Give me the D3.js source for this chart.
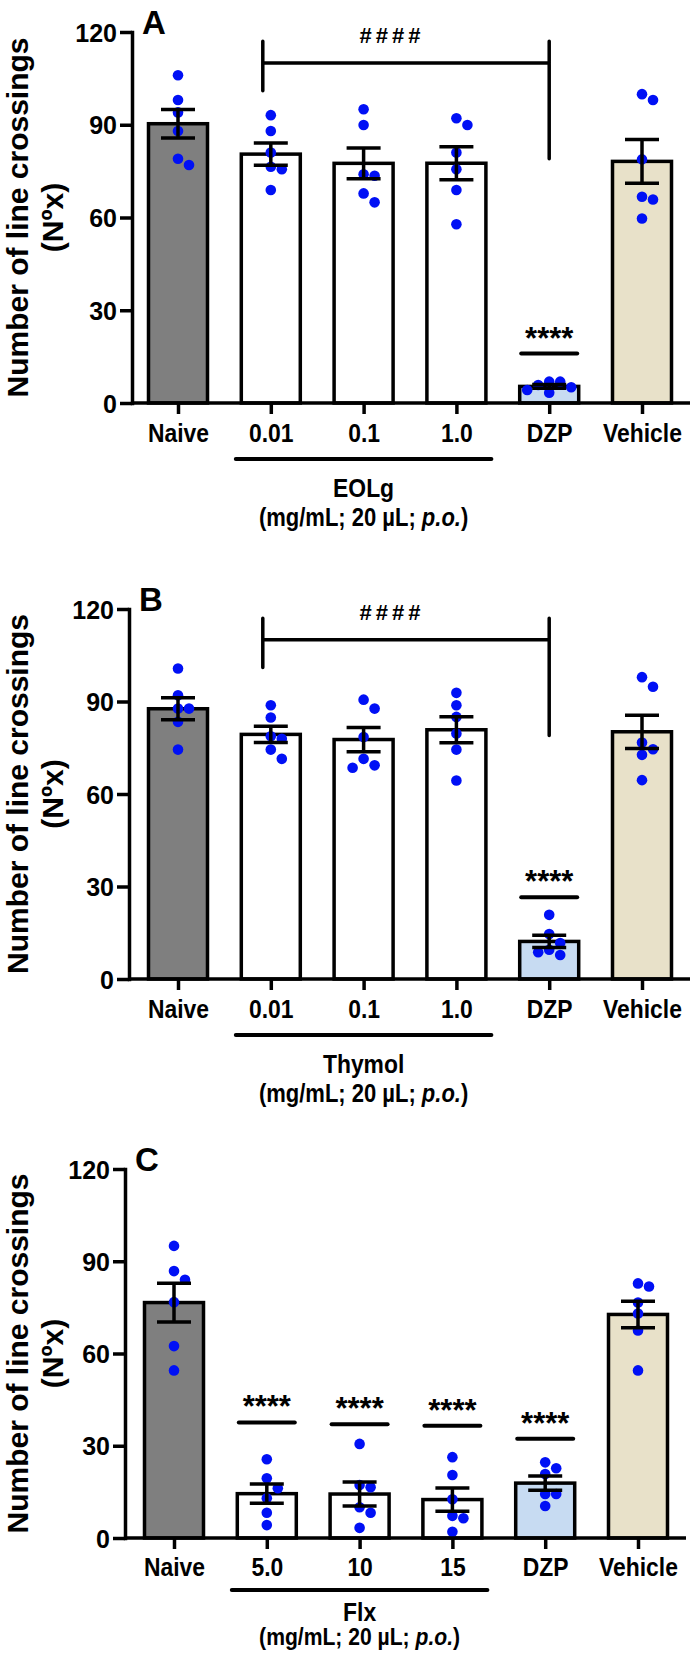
<!DOCTYPE html>
<html>
<head>
<meta charset="utf-8">
<script src="https://cdn.jsdelivr.net/npm/d3@7"></script>
<style>
  body { margin: 0; background: #fff; }
  svg { display: block; }
  text { font-family: "Liberation Sans", Arial, Helvetica, sans-serif; font-weight: bold; fill: #000; }
</style>
</head>
<body>
<svg id="fig" width="695" height="1653"></svg>
<script>
// groups on the x axis
const groupsAB = ["Naive", "0.01", "0.1", "1.0", "DZP", "Vehicle"];
const groupsC = ["Naive", "5.0", "10", "15", "DZP", "Vehicle"];
const yTicks = [0, 30, 60, 90, 120];
const fills = ["#7f7f7f", "#ffffff", "#ffffff", "#ffffff", "#c7dbf2", "#e8e1c9"];

// individual animals (line crossings)
const dotsA = [
  [106, 98, 94, 88, 79, 77],
  [93.1, 88, 81, 76.4, 75.6, 68.9],
  [95, 89.9, 74, 73.5, 67.8, 64.9],
  [92.1, 89.9, 81, 75.6, 68.9, 57.8],
  [6.9, 6.9, 5.8, 5.1, 4.2, 3.3],
  [99.9, 98, 78.8, 66.7, 65.8, 59.7]
];
const dotsB = [
  [100.7, 92, 87.7, 87.7, 83.4, 74.4],
  [88.8, 84.8, 78.7, 77.9, 74.4, 71.4],
  [90.6, 87.7, 78.5, 71.4, 69.3, 68.5],
  [92.8, 88.8, 85, 79.6, 74.4, 64.4],
  [20.8, 14.6, 11.7, 9.5, 8.7, 7.8],
  [97.9, 94.8, 76.7, 74.5, 72.7, 64.5]
];
const dotsC = [
  [95, 86.8, 84, 76.7, 62.4, 54.5],
  [25.6, 19.4, 16.2, 12.9, 8.2, 4.2],
  [30.6, 17.2, 16.5, 10, 8.2, 3.3],
  [26.3, 20.5, 12.6, 7.2, 6.4, 2],
  [24.6, 22.7, 20.8, 14.3, 14.3, 10.4],
  [82.8, 81.8, 76.6, 73, 67.5, 54.5]
];

// "****" markers: [group, height of the line under the stars]
const starsA = [["DZP", 16]];
const starsB = [["DZP", 26.5]];
const starsC = [["5.0", 37.6], ["10", 37], ["15", 36.5], ["DZP", 32.3]];

// "####" bracket 0.01 vs DZP (y values in line crossings)
const hashBracket = {from: "0.01", to: "DZP", bar: 110, top: 117, leftEnd: 101, rightEnd: 79, label: 119};

const panels = [
  {letter: "A", groups: groupsAB, dots: dotsA, stars: starsA, bracket: true, drug: "EOLg",
   y0: 403, y120: 32, axisX: 132, first: 178, under: [30, 56, 85, 114], unitSize: 25},
  {letter: "B", groups: groupsAB, dots: dotsB, stars: starsB, bracket: true, drug: "Thymol",
   y0: 979, y120: 609, axisX: 129, first: 178, under: [30, 56, 85, 114], unitSize: 25},
  {letter: "C", groups: groupsC, dots: dotsC, stars: starsC, bracket: false, drug: "Flx",
   y0: 1538, y120: 1169, axisX: 125, first: 174, under: [29, 52, 74, 98], unitSize: 24}
];

const step = 92.8, barW = 59, capW = 34, lw = 3.5, r = 5.3;
const narrow = "scale(0.88,1)";

const svg = d3.select("#fig");

function swarm(vals, y) {
  // simple beeswarm: top-down, first free slot
  let pts = vals.map(v => ({v: v, py: y(v)})).sort((a, b) => a.py - b.py);
  let slots = [0, 11, -11, 22, -22, 33, -33];
  let placed = [];
  pts.forEach(d => {
    d.dx = slots.find(s => !placed.some(q => q.dx === s && Math.abs(q.py - d.py) < 10));
    placed.push(d);
  });
  return pts;
}

function drawPanel(p) {
  const g = svg.append("g").attr("class", "panel");
  const y = d3.scaleLinear().domain([0, 120]).range([p.y0, p.y120]);
  const x = d3.scalePoint().domain(p.groups).range([p.first, p.first + 5 * step]);

  const stats = p.groups.map((k, i) => {
    let v = p.dots[i];
    return {k: k, i: i, mean: d3.mean(v), sem: d3.deviation(v) / Math.sqrt(v.length), pts: swarm(v, y)};
  });

  // bars
  g.selectAll("rect.bar").data(stats).join("rect")
    .attr("class", "bar")
    .attr("x", d => x(d.k) - barW / 2)
    .attr("width", barW)
    .attr("y", d => y(d.mean))
    .attr("height", d => p.y0 - y(d.mean))
    .attr("fill", d => fills[d.i])
    .attr("stroke", "#000")
    .attr("stroke-width", lw);

  // dots
  g.selectAll("g.dots").data(stats).join("g")
    .attr("class", "dots")
    .attr("transform", d => `translate(${x(d.k)},0)`)
  .selectAll("circle").data(d => d.pts).join("circle")
    .attr("cx", d => d.dx)
    .attr("cy", d => d.py)
    .attr("r", r)
    .attr("fill", "#0010f5");

  // error bars (mean +/- SEM)
  const eb = g.selectAll("g.err").data(stats).join("g")
    .attr("class", "err")
    .attr("transform", d => `translate(${x(d.k)},0)`)
    .attr("stroke", "#000")
    .attr("stroke-width", lw);
  eb.append("line")
    .attr("y1", d => y(d.mean + d.sem))
    .attr("y2", d => y(d.mean - d.sem));
  eb.append("line")
    .attr("x1", -capW / 2).attr("x2", capW / 2)
    .attr("y1", d => y(d.mean + d.sem)).attr("y2", d => y(d.mean + d.sem));
  eb.append("line")
    .attr("x1", -capW / 2).attr("x2", capW / 2)
    .attr("y1", d => y(d.mean - d.sem)).attr("y2", d => y(d.mean - d.sem));

  // y axis
  const ya = g.append("g")
    .attr("transform", `translate(${p.axisX},0)`)
    .call(d3.axisLeft(y).tickValues(yTicks).tickSize(12).tickSizeOuter(0).tickPadding(3));
  ya.select(".domain").attr("stroke-width", lw).attr("stroke-linecap", "square");
  ya.selectAll(".tick line").attr("stroke-width", lw);
  ya.selectAll(".tick text")
    .attr("font-family", null)
    .attr("font-size", 25)
    .attr("dy", "0.36em");

  // x axis
  const xa = g.append("g")
    .attr("transform", `translate(0,${p.y0})`)
    .call(d3.axisBottom(x).tickSize(11).tickSizeOuter(0).tickPadding(0));
  xa.select(".domain").remove();
  xa.append("line")
    .attr("x1", p.axisX).attr("x2", x("Vehicle") + 48)
    .attr("stroke", "#000").attr("stroke-width", lw);
  xa.selectAll(".tick line").attr("stroke-width", lw);
  xa.selectAll(".tick text")
    .attr("font-family", null)
    .attr("font-size", 26)
    .attr("y", p.under[0])
    .attr("dy", "0.36em")
    .attr("transform", narrow);

  // dose group underline and labels
  g.append("line")
    .attr("x1", x(p.groups[1]) - 35).attr("x2", x(p.groups[3]) + 35)
    .attr("y1", p.y0 + p.under[1]).attr("y2", p.y0 + p.under[1])
    .attr("stroke", "#000").attr("stroke-width", 4).attr("stroke-linecap", "round");
  g.append("text")
    .attr("transform", `translate(${x(p.groups[2])},${p.y0 + p.under[2]}) ${narrow}`)
    .attr("text-anchor", "middle").attr("dy", "0.36em")
    .attr("font-size", 26)
    .text(p.drug);
  const unit = g.append("text")
    .attr("transform", `translate(${x(p.groups[2])},${p.y0 + p.under[3]}) ${narrow}`)
    .attr("text-anchor", "middle").attr("dy", "0.36em")
    .attr("font-size", p.unitSize);
  unit.append("tspan").text("(mg/mL; 20 µL; ");
  unit.append("tspan").attr("font-style", "italic").text("p.o.");
  unit.append("tspan").text(")");

  // significance vs naive
  const st = g.selectAll("g.star").data(p.stars).join("g")
    .attr("class", "star")
    .attr("transform", d => `translate(${x(d[0])},${y(d[1])})`);
  st.append("line")
    .attr("x1", -28).attr("x2", 28)
    .attr("stroke", "#000").attr("stroke-width", 4).attr("stroke-linecap", "round");
  st.append("text")
    .attr("y", -5)
    .attr("text-anchor", "middle")
    .attr("font-size", 31)
    .text("****");

  // #### bracket
  if (p.bracket) {
    const b = hashBracket;
    const xl = x(b.from) - 8, xr = x(b.to);
    g.append("path")
      .attr("d", `M${xl},${y(b.top)}V${y(b.leftEnd)}M${xl},${y(b.bar)}H${xr}M${xr},${y(b.top)}V${y(b.rightEnd)}`)
      .attr("fill", "none").attr("stroke", "#000").attr("stroke-width", lw).attr("stroke-linecap", "round");
    g.append("text")
      .attr("x", (xl + xr) / 2 - 14)
      .attr("y", y(b.label) + 8)
      .attr("text-anchor", "middle")
      .attr("font-size", 22)
      .attr("letter-spacing", 4)
      .text("####");
  }

  // panel letter
  g.append("text")
    .attr("x", p.axisX + 10)
    .attr("y", p.y120 + 2)
    .attr("font-size", 33)
    .text(p.letter);

  // y title
  const cy = (p.y0 + p.y120) / 2;
  g.append("text")
    .attr("transform", `translate(28,${cy}) rotate(-90)`)
    .attr("text-anchor", "middle")
    .attr("font-size", 30)
    .text("Number of line crossings");
  g.append("text")
    .attr("transform", `translate(63,${cy}) rotate(-90)`)
    .attr("text-anchor", "middle")
    .attr("font-size", 30)
    .text("(Nºx)");
}

panels.forEach(drawPanel);
</script>
</body>
</html>
